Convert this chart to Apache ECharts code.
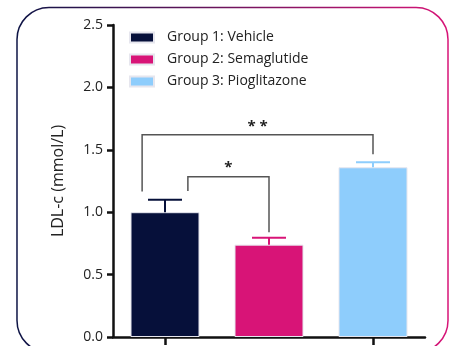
<!DOCTYPE html>
<html>
<head>
<meta charset="utf-8">
<script src="https://cdn.jsdelivr.net/npm/echarts@6/dist/echarts.min.js"></script>
<style>html,body{margin:0;padding:0;background:#fff;}#c{width:453px;height:346px;}</style>
</head>
<body>
<div id="c"></div>
<script>
// ---- data ----
var groups = ['Group 1: Vehicle', 'Group 2: Semaglutide', 'Group 3: Pioglitazone'];
var means = [1.00, 0.74, 1.36];
var sems = [0.10, 0.055, 0.04];
var yTicks = [0.0, 0.5, 1.0, 1.5, 2.0, 2.5];
// significance brackets: from group, to group, bar height, left drop end, right drop end, label, label height
var bracketFrom = [0, 0];
var bracketTo = [2, 1];
var bracketY = [1.62, 1.285];
var bracketLeftEnd = [1.165, 1.17];
var bracketRightEnd = [1.465, 0.84];
var bracketLabel = ['* *', '*'];
var bracketLabelY = [1.715, 1.39];

var colors = ['#06103a', '#d81477', '#8ecdfc'];
var FONT = '"Open Sans", "Noto Sans", sans-serif';

var chart = echarts.init(document.getElementById('c'), null, {renderer: 'canvas'});

var barSeries = groups.map(function (g, i) {
  return {
    name: g,
    type: 'bar',
    barWidth: 69,
    barGap: '-100%',
    data: groups.map(function (_, j) { return j === i ? means[i] : '-'; }),
    itemStyle: {color: colors[i], borderColor: '#e6e6ee', borderWidth: 1},
    emphasis: {disabled: true},
    z: 2
  };
});

var errData = means.map(function (m, i) { return [i, m, sems[i]]; });
var brData = bracketFrom.map(function (f, i) {
  return [f, bracketTo[i], bracketY[i], bracketLeftEnd[i], bracketRightEnd[i], bracketLabelY[i], i];
});

var option = {
  animation: false,
  backgroundColor: '#fff',
  textStyle: {fontFamily: FONT},
  grid: {left: 113, top: 25, width: 312, height: 312, containLabel: false},
  legend: {
    orient: 'vertical',
    left: 129,
    top: 29,
    padding: 0,
    data: groups,
    icon: 'rect',
    itemWidth: 24,
    itemHeight: 10,
    itemGap: 5,
    selectedMode: false,
    textStyle: {fontFamily: FONT, fontSize: 14, color: '#222', padding: [0, 0, 0, 8], lineHeight: 17}
  },
  xAxis: {
    type: 'category',
    data: groups,
    axisLine: {lineStyle: {color: '#111', width: 2.5}},
    axisTick: {show: true, alignWithLabel: true, length: 8, lineStyle: {color: '#111', width: 2.5}},
    axisLabel: {show: false},
    splitLine: {show: false}
  },
  yAxis: {
    type: 'value',
    min: 0,
    max: 2.5,
    interval: 0.5,
    name: 'LDL-c (mmol/L)',
    nameLocation: 'middle',
    nameGap: 47,
    nameTextStyle: {fontFamily: FONT, fontSize: 16, color: '#222'},
    axisLine: {show: true, lineStyle: {color: '#111', width: 2.5}},
    axisTick: {show: true, length: 6, lineStyle: {color: '#111', width: 2.5}},
    axisLabel: {
      fontFamily: FONT, fontSize: 14, color: '#222', margin: 10,
      formatter: function (v) { return yTicks.indexOf(v) >= 0 ? v.toFixed(1) : ''; }
    },
    splitLine: {show: false}
  },
  series: barSeries.concat([
    {
      type: 'custom',
      name: 'err',
      z: 3,
      data: errData,
      renderItem: function (params, api) {
        var idx = api.value(0);
        var base = api.coord([idx, api.value(1)]);
        var top = api.coord([idx, api.value(1) + api.value(2)]);
        var half = 17;
        var c = colors[params.dataIndex];
        return {
          type: 'group',
          children: [
            {type: 'line', shape: {x1: base[0], y1: base[1], x2: top[0], y2: top[1]}, style: {stroke: c, lineWidth: 2}},
            {type: 'line', shape: {x1: top[0] - half, y1: top[1], x2: top[0] + half, y2: top[1]}, style: {stroke: c, lineWidth: 2}}
          ]
        };
      }
    },
    {
      type: 'custom',
      name: 'brackets',
      z: 4,
      data: brData,
      renderItem: function (params, api) {
        var band = api.size([1, 0])[0];
        var i = api.value(6);
        var fromX = api.coord([api.value(0), 0])[0];
        var toX = api.coord([api.value(1), 0])[0];
        var lx = i === 0 ? fromX - 0.22 * band : fromX + 0.22 * band;
        var rx = toX;
        var y = api.coord([0, api.value(2)])[1];
        var yl = api.coord([0, api.value(3)])[1];
        var yr = api.coord([0, api.value(4)])[1];
        var ty = api.coord([0, api.value(5)])[1];
        var st = {stroke: '#555', lineWidth: 1.5, fill: null};
        return {
          type: 'group',
          children: [
            {type: 'polyline', shape: {points: [[lx, yl], [lx, y], [rx, y], [rx, yr]]}, style: st},
            {type: 'text', x: (lx + rx) / 2, y: ty + 4, style: {text: bracketLabel[i], fill: '#222', font: 'bold 15px ' + FONT, align: 'center', verticalAlign: 'middle'}}
          ]
        };
      }
    }
  ]),
  graphic: [
    {
      type: 'rect',
      silent: true,
      shape: {x: 17, y: 7.5, width: 431, height: 345, r: 32},
      style: {
        fill: null,
        lineWidth: 1.5,
        stroke: new echarts.graphic.LinearGradient(0, 0, 1, 0, [
          {offset: 0, color: '#0c1445'},
          {offset: 1, color: '#d81477'}
        ])
      },
      z: -1
    }
  ]
};
chart.setOption(option);
</script>
</body>
</html>
